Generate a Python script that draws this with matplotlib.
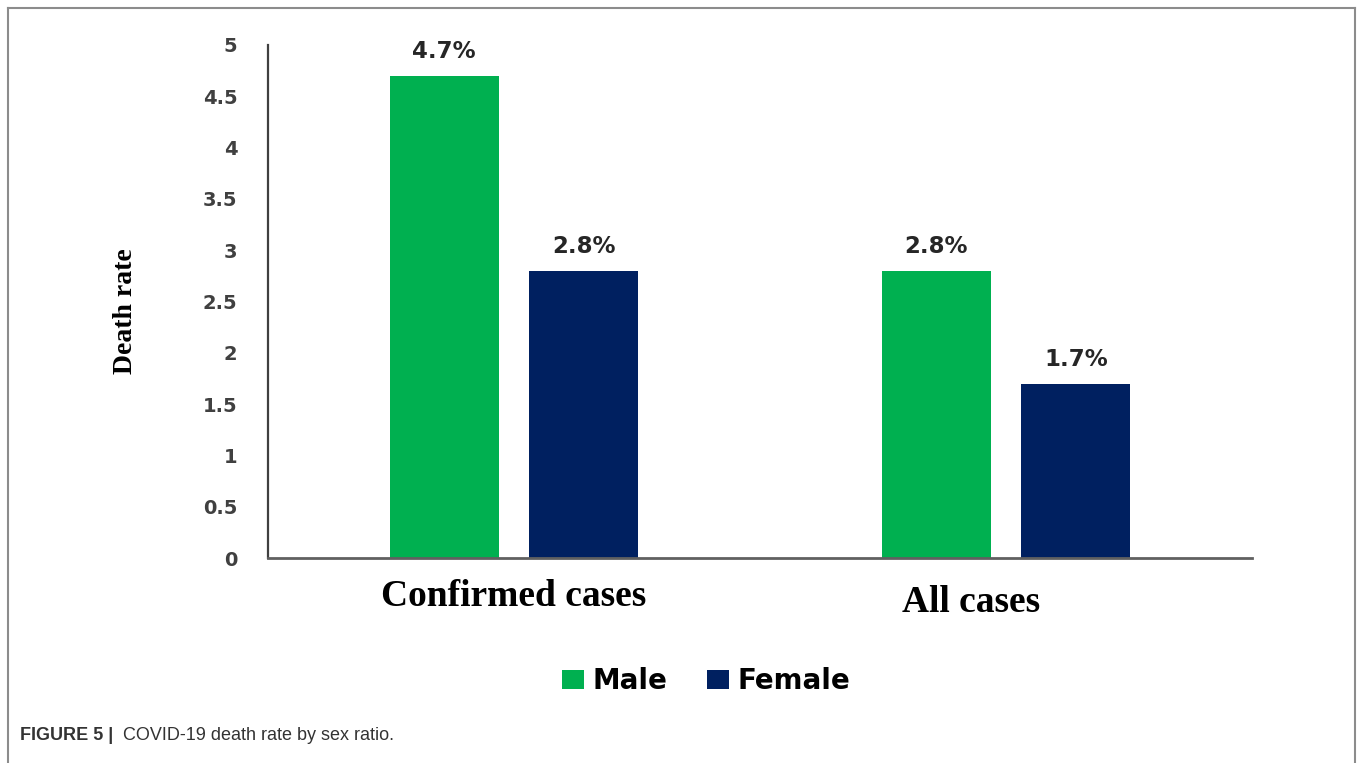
import matplotlib
matplotlib.use("Agg")
import matplotlib.pyplot as plt
from matplotlib.lines import Line2D
import numpy as np

categories = ["Confirmed cases", "All cases"]
male = [4.7, 2.8]
female = [2.8, 1.7]
male_labels = ["4.7%", "2.8%"]
female_labels = ["2.8%", "1.7%"]
yticks = [0, 0.5, 1, 1.5, 2, 2.5, 3, 3.5, 4, 4.5, 5]
ytick_labels = ["0", "0.5", "1", "1.5", "2", "2.5", "3", "3.5", "4", "4.5", "5"]

GREEN = "#00B050"
NAVY = "#002060"
W, H = 1358, 763

fig = plt.figure(figsize=(W / 100, H / 100), dpi=100)
ax = fig.add_axes([268 / W, 205 / H, 984 / W, 513 / H])

x = np.arange(len(categories))
bw = 0.221
off = 0.142
b1 = ax.bar(x - off, male, bw, color=GREEN, label="Male")
b2 = ax.bar(x + off, female, bw, color=NAVY, label="Female")

# value labels above bars
lab_font = dict(fontsize=16.5, fontweight="bold", color="#262626", family="DejaVu Sans")
for bars, labs in ((b1, male_labels), (b2, female_labels)):
    for r, t in zip(bars, labs):
        ax.annotate(t, (r.get_x() + r.get_width() / 2, r.get_height()),
                    xytext=(0, 9), textcoords="offset points",
                    ha="center", va="bottom", **lab_font)

ax.set_xlim(-0.5, 1.5)
ax.set_ylim(0, 5)
ax.set_yticks(yticks)
ax.set_yticklabels(ytick_labels)
ax.tick_params(axis="y", length=0, pad=22, labelsize=14, labelcolor="#404040")
for t in ax.get_yticklabels():
    t.set_fontweight("bold")
ax.set_xticks([])

for s in ("top", "right"):
    ax.spines[s].set_visible(False)
ax.spines["left"].set_color("#404040")
ax.spines["left"].set_linewidth(1.6)
ax.spines["bottom"].set_color("#606060")
ax.spines["bottom"].set_linewidth(2)

# category labels (serif, bold), placed like the original
cat_x = [0.0, 0.93]
cat_y = [597, 603]
for cx, cy, c in zip(cat_x, cat_y, categories):
    xd = ax.transData.transform((cx, 0))[0] / W
    fig.text(xd, 1 - cy / H, c, ha="center", va="center", fontsize=27,
             fontweight="bold", family="Liberation Serif", color="black")

fig.text(125 / W, 1 - 311 / H, "Death rate", rotation=90, ha="center", va="center",
         fontsize=20, fontweight="bold", family="Liberation Serif", color="black")

fig.legend(handles=[b1, b2], loc="center", bbox_to_anchor=(706 / W, 1 - 681 / H),
           ncol=2, frameon=False, handlelength=0.8, handleheight=0.7,
           handletextpad=0.3, columnspacing=1.4,
           prop=dict(family="DejaVu Sans", weight="bold", size=20))

# outer frame
for xs, ys in (([8, 8], [H, 8]), ([8, 1355], [8, 8]), ([1355, 1355], [8, H])):
    fig.add_artist(Line2D([v / W for v in xs], [1 - v / H for v in ys],
                          color="#8c8c8c", lw=1.5, transform=fig.transFigure))

cap_font = ["Liberation Sans Narrow", "Liberation Sans", "DejaVu Sans"]
fig.text(20 / W, 1 - 736 / H, "FIGURE 5 |", ha="left", va="center", fontsize=13,
         fontweight="bold", family=cap_font, color="#333333")
fig.text(123 / W, 1 - 736 / H, "COVID-19 death rate by sex ratio.", ha="left", va="center",
         fontsize=13, family=cap_font, color="#333333")

fig.savefig("out.png", dpi=100, facecolor="white")
